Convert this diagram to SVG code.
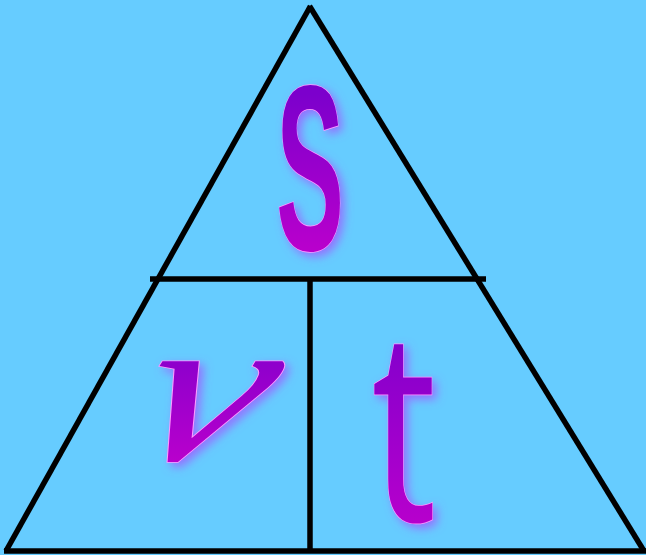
<svg xmlns="http://www.w3.org/2000/svg" width="646" height="555" viewBox="0 0 646 555">
  <defs>
    <linearGradient id="g" x1="0" y1="0" x2="0" y2="1">
      <stop offset="0" stop-color="#6600CC"/>
      <stop offset="1" stop-color="#CC00CC"/>
    </linearGradient>
    <filter id="glow" x="-30%" y="-30%" width="160%" height="160%">
      <feGaussianBlur in="SourceAlpha" stdDeviation="5" result="b"/>
      <feOffset in="b" dx="4" dy="4" result="o"/>
      <feFlood flood-color="#9966FF" flood-opacity="0.9"/>
      <feComposite in2="o" operator="in" result="s"/>
      <feMerge>
        <feMergeNode in="s"/>
        <feMergeNode in="SourceGraphic"/>
      </feMerge>
    </filter>
  </defs>
  <style>
    .ln { stroke: #000; fill: none; stroke-width: 5.5; }
    .letter { fill: url(#g); stroke: #FF99FF; stroke-width: 1.5; paint-order: stroke; }
  </style>
  <rect width="646" height="555" fill="#66CCFF"/>
  <g id="connectors">
    <line class="ln" x1="6" y1="551" x2="310.5" y2="6"/>
    <line class="ln" x1="309.5" y1="6" x2="644" y2="551"/>
    <line class="ln" x1="4" y1="551" x2="646" y2="551" stroke-width="6"/>
    <line class="ln" x1="150" y1="279" x2="486" y2="279" stroke-width="7.5"/>
    <line class="ln" x1="310" y1="279" x2="310" y2="550"/>
  </g>
  <g id="node-s" filter="url(#glow)">
    <text class="letter" transform="translate(310,250) scale(0.43,1)" text-anchor="middle" font-family="'Liberation Sans', sans-serif" font-weight="bold" font-size="236" stroke-width="9" stroke="url(#g)">S</text>
  </g>
  <g id="node-v" filter="url(#glow)">
    <text class="letter" transform="translate(186,460) scale(1.35,1) skewX(-15)" text-anchor="middle" font-family="'Liberation Serif', serif" font-style="italic" font-size="215">v</text>
  </g>
  <g id="node-t" filter="url(#glow)">
    <text class="letter" transform="translate(404,521) scale(0.68,1)" text-anchor="middle" font-family="'Open Sans', sans-serif" font-size="268">t</text>
  </g>
</svg>
